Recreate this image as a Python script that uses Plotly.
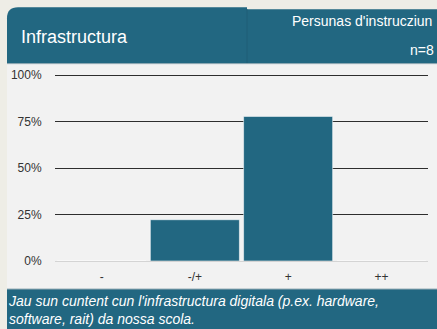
import plotly.graph_objects as go

# Survey answers for the question on digital infrastructure
categories = ["-", "-/+", "+", "++"]
shares = [0.0, 22.2, 77.8, 0.0]
y_ticks = [0, 25, 50, 75, 100]
y_tick_labels = ["0%", "25%", "50%", "75%", "100%"]

title_text = "Infrastructura"
group_text = "Persunas d'instrucziun"
count_text = "n=8"
question_text = ("Jau sun cuntent cun l'infrastructura digitala (p.ex. hardware,<br>"
                 "software, rait) da nossa scola.")

W, H = 437, 329
Y_TOP = 100.6          # small headroom so the 100% gridline is drawn
ML, MR, MB = 55, 9, 68
PH = 186 * Y_TOP / 100
MT = H - MB - PH
PW = W - ML - MR

TEAL = "#226781"
BEIGE = "#eeede6"
PANEL = "#f2f2f2"


def px(x):
    return (x - ML) / PW


def py(y):
    return (H - MB - y) / PH


fig = go.Figure()
fig.add_trace(go.Bar(
    x=categories, y=shares,
    marker=dict(color=TEAL, line=dict(color="rgba(255,255,255,0.55)", width=1)),
    hoverinfo="skip",
))

shapes = []
# light panel behind the chart
shapes.append(dict(type="rect", xref="paper", yref="paper",
                   x0=px(7), x1=px(437), y0=py(63), y1=py(290),
                   fillcolor=PANEL, line=dict(width=0), layer="below"))
# header, left part with rounded corner
r = 11
path = (f"M {px(7)},{py(63)} L {px(7)},{py(7 + r)} "
        f"Q {px(7)},{py(7)} {px(7 + r)},{py(7)} "
        f"L {px(247)},{py(7)} L {px(247)},{py(63)} Z")
shapes.append(dict(type="path", xref="paper", yref="paper", path=path,
                   fillcolor=TEAL, line=dict(width=0), layer="below"))
# header, right part
shapes.append(dict(type="rect", xref="paper", yref="paper",
                   x0=px(247), x1=px(437), y0=py(63), y1=py(9),
                   fillcolor=TEAL, line=dict(width=0), layer="below"))
shapes.append(dict(type="line", xref="paper", yref="paper",
                   x0=px(247), x1=px(247), y0=py(63), y1=py(9),
                   line=dict(color="#1e5e76", width=1), layer="below"))
shapes.append(dict(type="line", xref="paper", yref="paper",
                   x0=px(7), x1=px(437), y0=py(63.5), y1=py(63.5),
                   line=dict(color="#7f9eaa", width=1), layer="below"))
# footer band
shapes.append(dict(type="rect", xref="paper", yref="paper",
                   x0=px(7), x1=px(437), y0=py(289), y1=py(329),
                   fillcolor=TEAL, line=dict(width=0), layer="below"))
shapes.append(dict(type="line", xref="paper", yref="paper",
                   x0=px(7), x1=px(437), y0=py(289), y1=py(289),
                   line=dict(color="#9fb3bb", width=1), layer="below"))

FONT = "Liberation Sans, Arial, sans-serif"
annotations = [
    dict(text=title_text, xref="paper", yref="paper", x=px(19), y=py(37),
         xanchor="left", yanchor="middle", showarrow=False,
         font=dict(family=FONT, size=18, color="white")),
    dict(text=group_text, xref="paper", yref="paper", x=px(290), y=py(21),
         xanchor="left", yanchor="middle", showarrow=False,
         font=dict(family=FONT, size=14, color="white")),
    dict(text=count_text, xref="paper", yref="paper", x=px(436), y=py(50),
         xanchor="right", yanchor="middle", showarrow=False,
         font=dict(family=FONT, size=14, color="white")),
    dict(text=question_text, xref="paper", yref="paper", x=px(6), y=py(291),
         xanchor="left", yanchor="top", align="left", showarrow=False,
         font=dict(family=FONT, size=14, color="white", style="italic")),
]

fig.update_layout(
    width=W, height=H,
    margin=dict(l=ML, r=MR, t=MT, b=MB, pad=0),
    paper_bgcolor=BEIGE, plot_bgcolor="rgba(0,0,0,0)",
    bargap=0.045, showlegend=False,
    shapes=shapes, annotations=annotations,
    font=dict(family=FONT, size=12, color="#333333"),
)
fig.update_xaxes(
    type="category", range=[-0.5, 3.5], showgrid=False, showline=False,
    zeroline=False, ticks="outside", ticklen=5, tickcolor="rgba(0,0,0,0)",
    tickfont=dict(family=FONT, size=12, color="#333333"), fixedrange=True,
)
fig.update_yaxes(
    range=[0, Y_TOP], tickvals=y_ticks, ticktext=y_tick_labels,
    showgrid=True, gridcolor="#2e2e2e", gridwidth=1.4,
    zeroline=True, zerolinecolor="#d4d4d4", zerolinewidth=1,
    showline=False, ticks="outside", ticklen=10, tickcolor="rgba(0,0,0,0)",
    tickfont=dict(family=FONT, size=12, color="#333333"), fixedrange=True,
)

fig.write_html("out.html", config={"displayModeBar": False})
